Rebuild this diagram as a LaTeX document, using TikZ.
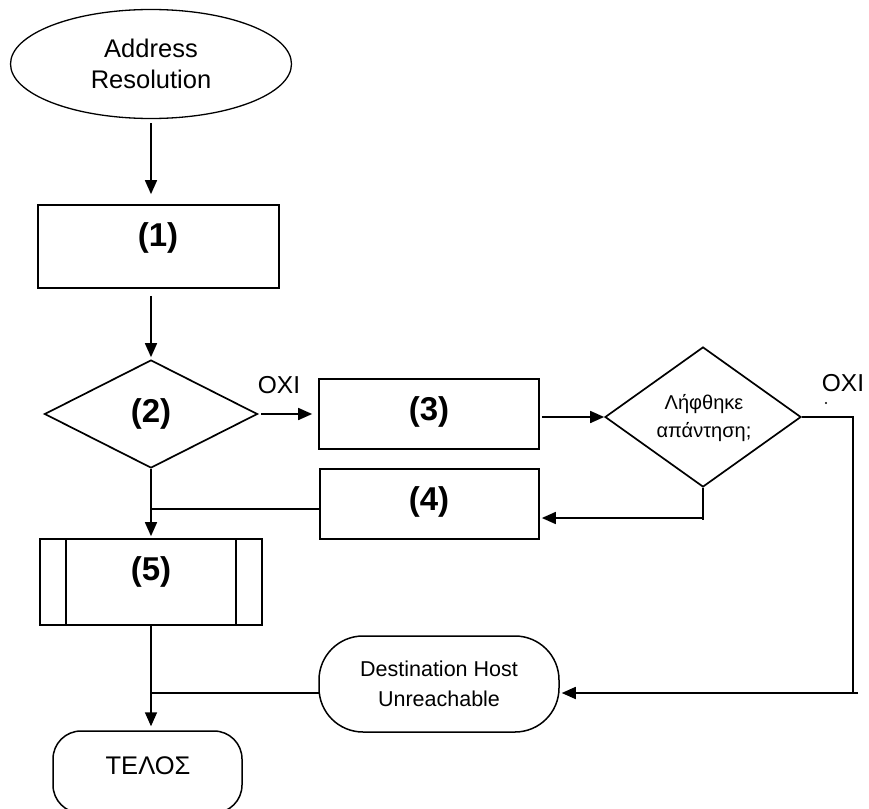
\documentclass[tikz,border=0pt]{standalone}
\usepackage{fontspec}
\setmainfont{Liberation Sans}
\usetikzlibrary{shapes.geometric,arrows.meta}
\newcommand\fntAddr{\fontsize{25.5}{31}\selectfont}
\newcommand\fntNum{\fontsize{33}{36}\selectfont\bfseries}
\newcommand\fntOxi{\fontsize{24.5}{29}\selectfont}
\newcommand\fntGr{\fontsize{20}{28}\selectfont}
\newcommand\fntDest{\fontsize{21.5}{30}\selectfont}
\newcommand\fntEnd{\fontsize{25.5}{30}\selectfont}
\begin{document}
\begin{tikzpicture}[x=1pt,y=-1pt,line width=1.7pt,
  arr/.style={-{Triangle[length=14pt,width=12pt]}},
  box/.style={draw,rectangle,inner sep=0pt},
  dia/.style={draw,diamond,inner sep=0pt},
  term/.style={draw,rectangle,inner sep=0pt},
  num/.style={font=\fntNum,inner sep=0pt},
  lbl/.style={font=\fntOxi,inner sep=0pt}]
\useasboundingbox (0,0) rectangle (869,808);

% nodes
\node[draw,ellipse,line width=1.3pt,minimum width=281pt,minimum height=109pt,inner sep=0pt,font=\fntAddr,align=center] (start) at (151,64) {Address\\Resolution};
\node[box,minimum width=241pt,minimum height=83pt] (b1) at (158.5,246.5) {};
\node[num] (t1) at (158,238) {(1)};
\node[dia,minimum width=213pt,minimum height=108pt] (d2) at (151,414) {};
\node[num] (t2) at (151,414) {(2)};
\node[box,minimum width=220pt,minimum height=70pt] (b3) at (429,414) {};
\node[num] (t3) at (429,412) {(3)};
\node[box,minimum width=219pt,minimum height=70pt] (b4) at (429.5,504) {};
\node[num] (t4) at (429,502) {(4)};
\node[dia,minimum width=196pt,minimum height=140pt] (drx) at (703,417) {};
\node[font=\fntGr,align=center,inner sep=0pt] (tg) at (704,418) {Λήφθηκε\\απάντηση;};
\node[box,minimum width=222pt,minimum height=86pt] (b5) at (151,582) {};
\node[num] (t5) at (151,572) {(5)};
\node[term,rounded corners=44pt,line width=1.5pt,minimum width=240pt,minimum height=96pt,font=\fntDest,align=center] (dest) at (439,684) {Destination Host\\Unreachable};
\node[term,rounded corners=28pt,line width=1.5pt,minimum width=189pt,minimum height=82pt] (telos) at (147.5,772) {};
\node[font=\fntEnd,inner sep=0pt] (tt) at (148,766) {ΤΕΛΟΣ};
\node[lbl] (oxi1) at (279,385) {ΟΧΙ};
\node[lbl] (oxi2) at (843,383) {ΟΧΙ};

% inner lines of predefined process box
\draw ([xshift=27pt]b5.north west) -- ([xshift=27pt]b5.south west);
\draw ([xshift=-27pt]b5.north east) -- ([xshift=-27pt]b5.south east);

% coordinates
\coordinate (r1) at (853,417);
\coordinate (r2) at (853,693);
\coordinate (r2e) at (858,693);
\coordinate (c4) at (703,520);
\coordinate (c5) at (703,518);
\coordinate (c6) at (320,509);
\coordinate (c7) at (319,693);

% connectors
\draw[arr] ([yshift=-4pt]start.south) -- ([yshift=10pt]start.south |- b1.north);
\draw[arr] ([yshift=-7pt]b1.south -| d2.north) -- ([yshift=2pt]d2.north);
\draw[arr] ([xshift=3pt]d2.east) -- ([xshift=-6pt]b3.west |- d2.east);
\draw[arr] ([xshift=2pt]b3.east |- drx.west) -- (drx.west);
\draw (drx.east) -- (r1) -- (r2);
\draw[arr] (r2e) -- ([xshift=2pt]dest.east |- r2);
\draw (drx.south) -- (c4);
\draw[arr] (c5) -- ([xshift=2pt]b4.east |- c5);
\draw[line width=1.4pt] (c6) -- (c6 -| d2.south);
\draw[arr] (d2.south) -- ([yshift=2pt]b5.north);
\draw[line width=1.4pt] (c7) -- (c7 -| b5.south);
\draw[arr] (b5.south) -- ([yshift=4pt]b5.south |- telos.north);
\fill (826,403) circle (1.2pt);
\end{tikzpicture}
\end{document}
